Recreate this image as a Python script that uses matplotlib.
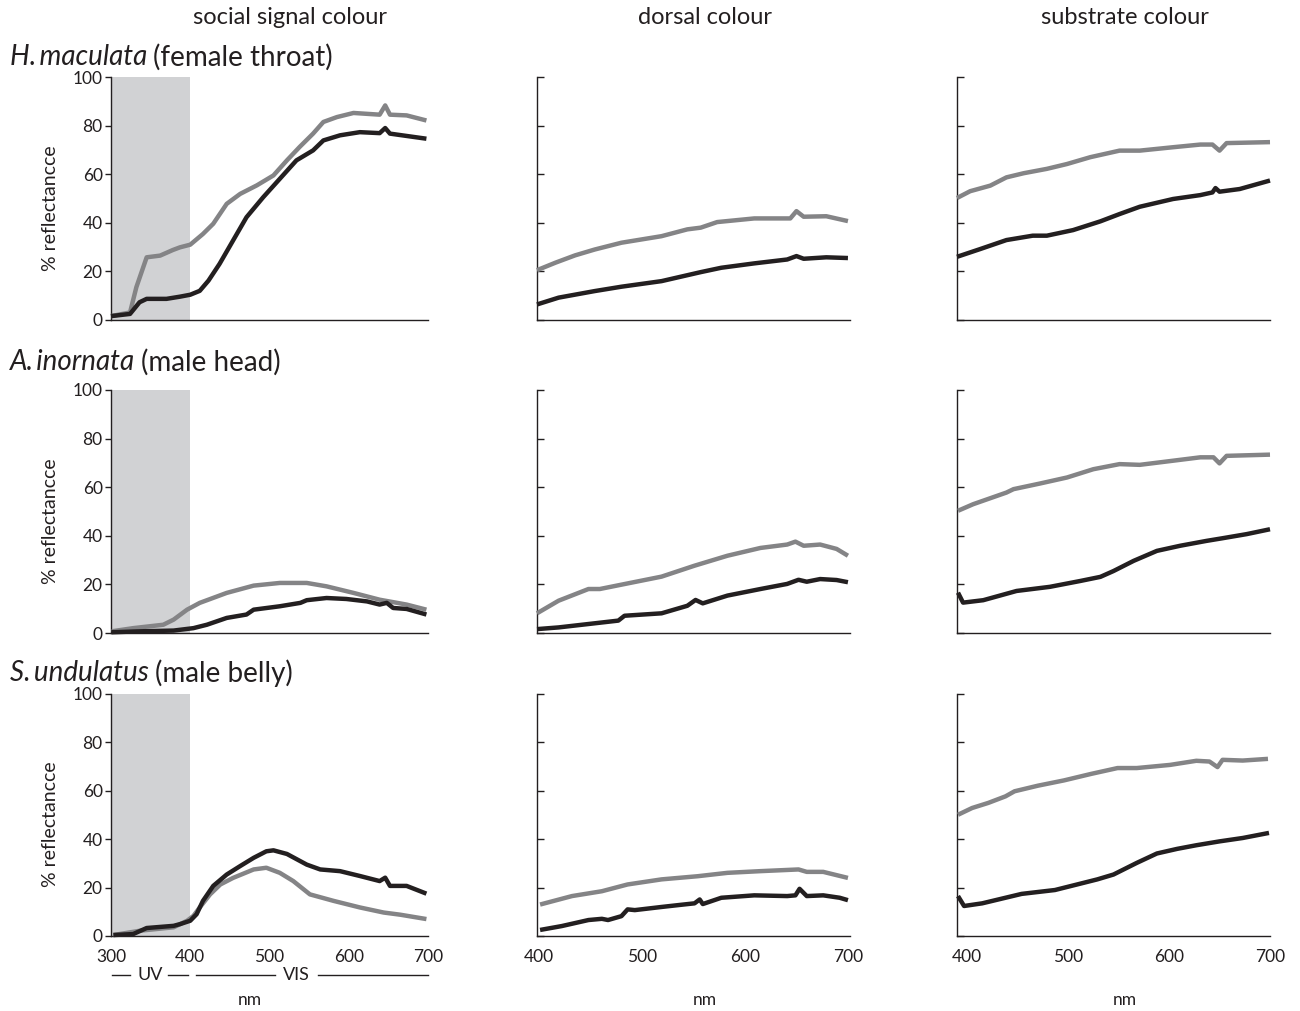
import matplotlib
matplotlib.use("Agg")
import matplotlib.pyplot as plt
import matplotlib.transforms as mtransforms

plt.rcParams["font.family"] = ["Lato", "DejaVu Sans"]

GREY = "#848486"
BLACK = "#231f20"
SHADE = "#d1d2d4"

col_titles = ["social signal colour", "dorsal colour", "substrate colour"]
species = ["H.\u2009maculata", "A.\u2009inornata", "S.\u2009undulatus"]
body_parts = ["(female throat)", "(male head)", "(male belly)"]
ylabel = "% reflectancce"
y_ticks = [0, 20, 40, 60, 80, 100]
signal_ticks = [300, 400, 500, 600, 700]
other_ticks = [400, 500, 600, 700]

# ---- H. maculata ----
hm_sig_grey_wl = [300, 324, 332, 345, 362, 378, 387, 400, 416, 429, 446, 463, 484, 505, 522,
                  538, 555, 568, 585, 606, 639, 646, 652, 673, 698]
hm_sig_grey = [1.6, 3.1, 13.5, 25.8, 26.5, 28.8, 29.9, 31.0, 35.4, 39.6, 47.8, 51.9, 55.4, 59.5, 65.7,
               71.2, 76.7, 81.5, 83.5, 85.2, 84.5, 88.3, 84.5, 84.2, 82.1]
hm_sig_black_wl = [300, 324, 336, 345, 370, 387, 400, 412, 423, 437, 454, 471, 492, 513, 534,
                   555, 568, 589, 614, 639, 646, 652, 698]
hm_sig_black = [1.6, 2.5, 7.3, 8.7, 8.7, 9.6, 10.4, 12.0, 16.2, 23.1, 32.7, 42.3, 50.5, 58.1, 65.7,
                69.8, 73.9, 76.0, 77.3, 76.9, 79.0, 76.7, 74.6]
hm_dor_grey_wl = [398, 416, 435, 454, 480, 519, 544, 557, 573, 609, 644, 650, 657, 679, 700]
hm_dor_grey = [20.5, 23.6, 26.6, 29.0, 31.8, 34.5, 37.3, 38.0, 40.3, 41.8, 41.8, 44.8, 42.5, 42.7, 40.7]
hm_dor_black_wl = [398, 419, 454, 480, 519, 557, 577, 609, 641, 650, 657, 679, 700]
hm_dor_black = [6.4, 9.2, 11.9, 13.7, 16.0, 19.7, 21.5, 23.3, 24.9, 26.3, 25.2, 25.8, 25.5]
hm_sub_grey_wl = [390, 403, 423, 439, 456, 479, 499, 522, 551, 571, 604, 631, 643, 650, 657, 700]
hm_sub_grey = [50.2, 53.0, 55.3, 58.7, 60.4, 62.2, 64.2, 67.0, 69.7, 69.7, 71.1, 72.2, 72.2, 69.7, 72.8, 73.2]
hm_sub_black_wl = [390, 413, 439, 465, 479, 505, 532, 551, 571, 604, 631, 643, 646, 650, 670, 700]
hm_sub_black = [26.0, 29.2, 32.9, 34.7, 34.7, 37.0, 40.6, 43.6, 46.6, 49.8, 51.4, 52.5, 54.3, 52.8, 53.9, 57.4]

# ---- A. inornata ----
ai_sig_grey_wl = [301, 328, 366, 379, 396, 412, 446, 480, 513, 547, 572, 606, 639, 673, 698]
ai_sig_grey = [0.7, 2.0, 3.4, 5.5, 9.6, 12.4, 16.5, 19.5, 20.6, 20.6, 19.2, 16.5, 13.7, 11.7, 9.6]
ai_sig_black_wl = [301, 337, 379, 404, 421, 446, 471, 480, 513, 539, 547, 572, 597, 623, 639,
                   648, 656, 673, 698]
ai_sig_black = [0.3, 0.7, 1.0, 2.0, 3.4, 6.2, 7.6, 9.6, 11.0, 12.4, 13.5, 14.4, 14.0, 13.0, 11.7,
                12.4, 10.3, 9.9, 7.6]
ai_dor_grey_wl = [398, 419, 448, 459, 486, 519, 551, 583, 615, 641, 649, 657, 673, 689, 700]
ai_dor_grey = [8.1, 13.3, 18.1, 18.1, 20.4, 23.2, 27.7, 31.8, 35.0, 36.4, 37.6, 35.9, 36.4, 34.6, 31.8]
ai_dor_black_wl = [398, 419, 448, 477, 483, 519, 544, 552, 559, 583, 615, 641, 652, 660, 673, 689, 700]
ai_dor_black = [1.6, 2.3, 3.7, 5.1, 7.1, 8.1, 11.2, 13.6, 12.2, 15.4, 18.1, 20.2, 21.9, 21.1, 22.2, 21.8, 20.9]
ai_sub_grey_wl = [391, 406, 439, 446, 472, 499, 525, 551, 571, 604, 631, 644, 650, 657, 700]
ai_sub_grey = [50.3, 53.0, 57.8, 59.2, 61.5, 64.0, 67.4, 69.5, 69.2, 70.9, 72.3, 72.3, 69.8, 72.9, 73.4]
ai_sub_black_wl = [391, 396, 416, 449, 482, 512, 532, 545, 565, 588, 611, 637, 653, 677, 700]
ai_sub_black = [16.6, 12.5, 13.5, 17.3, 19.0, 21.4, 23.1, 25.5, 29.7, 33.8, 35.9, 37.9, 39.0, 40.7, 42.7]

# ---- S. undulatus ----
su_sig_grey_wl = [303, 337, 379, 396, 404, 412, 425, 438, 454, 480, 496, 513, 530, 551, 581,
                  614, 644, 665, 698]
su_sig_grey = [0.4, 2.2, 3.6, 6.3, 8.3, 11.8, 17.2, 21.3, 24.0, 27.5, 28.2, 26.1, 22.7, 17.2, 14.5,
               11.8, 9.7, 8.8, 7.0]
su_sig_black_wl = [303, 328, 345, 379, 387, 400, 408, 416, 429, 446, 463, 480, 496, 505, 522,
                   547, 564, 589, 614, 639, 646, 652, 673, 698]
su_sig_black = [0.4, 0.8, 3.3, 4.2, 4.9, 6.3, 9.0, 14.5, 20.7, 25.4, 28.9, 32.3, 35.0, 35.4, 33.9,
                29.5, 27.5, 26.8, 24.8, 22.7, 24.1, 20.7, 20.7, 17.5]
su_dor_grey_wl = [401, 432, 461, 486, 519, 554, 583, 615, 652, 660, 676, 700]
su_dor_grey = [13.0, 16.5, 18.5, 21.3, 23.4, 24.7, 26.1, 26.8, 27.5, 26.5, 26.5, 24.0]
su_dor_black_wl = [401, 422, 448, 461, 467, 480, 486, 493, 519, 538, 551, 556, 559, 577, 609,
                   641, 649, 653, 660, 676, 692, 700]
su_dor_black = [2.5, 4.1, 6.6, 7.1, 6.6, 8.2, 11.0, 10.7, 12.0, 12.9, 13.5, 15.1, 13.2, 15.8, 16.8,
                16.5, 16.8, 19.5, 16.5, 16.8, 15.8, 14.8]
su_sub_grey_wl = [391, 405, 421, 438, 447, 470, 496, 523, 549, 568, 601, 627, 640, 648, 653, 673, 698]
su_sub_grey = [50.1, 52.9, 55.0, 57.7, 59.8, 62.1, 64.3, 67.0, 69.4, 69.4, 70.7, 72.4, 72.1, 69.8,
               72.8, 72.5, 73.2]
su_sub_black_wl = [391, 397, 415, 438, 454, 487, 509, 529, 545, 568, 588, 608, 627, 650, 673, 699]
su_sub_black = [16.5, 12.4, 13.5, 15.8, 17.4, 19.0, 21.3, 23.4, 25.4, 30.2, 34.1, 36.0, 37.5,
                39.1, 40.5, 42.6]

panels = [
    [(hm_sig_grey_wl, hm_sig_grey, hm_sig_black_wl, hm_sig_black),
     (hm_dor_grey_wl, hm_dor_grey, hm_dor_black_wl, hm_dor_black),
     (hm_sub_grey_wl, hm_sub_grey, hm_sub_black_wl, hm_sub_black)],
    [(ai_sig_grey_wl, ai_sig_grey, ai_sig_black_wl, ai_sig_black),
     (ai_dor_grey_wl, ai_dor_grey, ai_dor_black_wl, ai_dor_black),
     (ai_sub_grey_wl, ai_sub_grey, ai_sub_black_wl, ai_sub_black)],
    [(su_sig_grey_wl, su_sig_grey, su_sig_black_wl, su_sig_black),
     (su_dor_grey_wl, su_dor_grey, su_dor_black_wl, su_dor_black),
     (su_sub_grey_wl, su_sub_grey, su_sub_black_wl, su_sub_black)],
]

W, H = 1300, 1011
fig = plt.figure(figsize=(W / 100, H / 100), dpi=100)

col_left = [111, 537, 957]
col_right = [428, 850, 1270]
row_top = [77, 390, 694]
row_bottom = [320, 633, 936]
xlims = [(300, 700), (398, 702), (390, 700)]

for r in range(3):
    for c in range(3):
        x0, x1 = col_left[c], col_right[c]
        y0, y1 = row_top[r], row_bottom[r]
        ax = fig.add_axes([x0 / W, 1 - y1 / H, (x1 - x0) / W, (y1 - y0) / H])
        gwl, g, bwl, b = panels[r][c]
        if c == 0:
            ax.axvspan(300, 400, color=SHADE, lw=0, zorder=0)
        ax.plot(gwl, g, color=GREY, lw=3.2, solid_capstyle="butt", clip_on=False, zorder=3)
        ax.plot(bwl, b, color=BLACK, lw=3.2, solid_capstyle="butt", clip_on=False, zorder=4)
        ax.set_xlim(*xlims[c])
        ax.set_ylim(0, 100)
        for s in ["top", "right"]:
            ax.spines[s].set_visible(False)
        for s in ["left", "bottom"]:
            ax.spines[s].set_linewidth(1.0)
            ax.spines[s].set_color(BLACK)
        ax.set_yticks(y_ticks)
        if c == 0:
            ax.tick_params(axis="y", direction="out", length=4, width=1, pad=2,
                           labelsize=12.5, colors=BLACK)
            ax.set_ylabel(ylabel, fontsize=14, color=BLACK)
            ax.yaxis.set_label_coords(-0.165, 0.46)
        else:
            ax.tick_params(axis="y", direction="in", length=5, width=1, labelleft=False,
                           colors=BLACK)
        ax.set_xticks(signal_ticks if c == 0 else other_ticks)
        ax.tick_params(axis="x", length=0, pad=9, labelsize=12.5, colors=BLACK)
        if r < 2:
            ax.tick_params(axis="x", labelbottom=False)
        if r == 2 and c == 0:
            trans = mtransforms.blended_transform_factory(ax.transData, ax.transAxes)
            yy = -0.16
            for xa, xb in [(301, 324), (372, 397), (407, 507), (561, 700)]:
                ax.plot([xa, xb], [yy, yy], color=BLACK, lw=1, transform=trans, clip_on=False)
            ax.text(349, yy, "UV", transform=trans, ha="center", va="center",
                    fontsize=13, color=BLACK)
            ax.text(534, yy, "VIS", transform=trans, ha="center", va="center",
                    fontsize=13, color=BLACK)

# column titles and nm labels
for x, t in zip([290, 705, 1125], col_titles):
    fig.text(x / W, 1 - 18 / H, t, ha="center", va="center", fontsize=17, color=BLACK)
for x in [250, 705, 1125]:
    fig.text(x / W, 1 - 1000 / H, "nm", ha="center", va="center", fontsize=12.5, color=BLACK)

# row labels: italic species name followed by upright body part
renderer = fig.canvas.get_renderer()
for y, sp, part in zip([57, 362, 673], species, body_parts):
    t = fig.text(10 / W, 1 - y / H, sp, ha="left", va="center", fontsize=20,
                 style="italic", color=BLACK)
    bb = t.get_window_extent(renderer)
    fig.text(bb.x1 / W + 6 / W, 1 - y / H, part, ha="left", va="center", fontsize=20,
             color=BLACK)

fig.savefig("out.png", dpi=100)
